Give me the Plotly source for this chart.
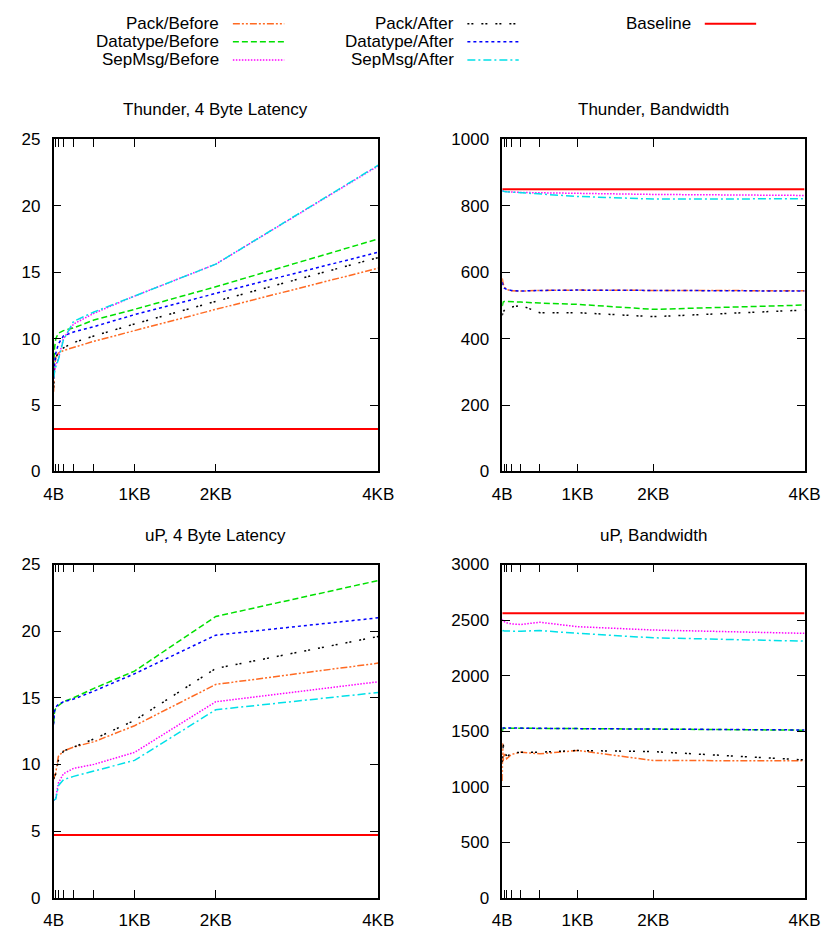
import plotly.graph_objects as go

# ---------------- data ----------------
sizes = [4, 8, 16, 32, 64, 128, 256, 512, 1024, 2048, 4096]
tick_vals = [4, 8, 16, 32, 64, 128, 256, 512, 1024, 2048, 4096]
tick_text = ["4B", "", "", "", "", "", "", "", "1KB", "2KB", "4KB"]

series_names = ["Pack/Before", "Datatype/Before", "SepMsg/Before",
                "Pack/After", "Datatype/After", "SepMsg/After", "Baseline"]

# Thunder, 4 Byte Latency
thu_lat_pack_before = [6.0, 7.0, 7.9, 8.6, 8.9, 9.1, 9.35, 9.8, 10.6, 12.2, 15.3]
thu_lat_pack_after = [6.3, 7.2, 8.0, 8.6, 8.9, 9.3, 9.7, 10.2, 11.1, 12.8, 16.1]
thu_lat_dt_before = [7.8, 8.5, 9.3, 10.0, 10.4, 10.6, 10.8, 11.4, 12.2, 13.9, 17.5]
thu_lat_dt_after = [7.0, 7.6, 8.2, 8.9, 9.6, 10.2, 10.5, 10.9, 11.8, 13.4, 16.5]
thu_lat_sep_before = [7.0, 7.3, 7.6, 8.0, 8.5, 10.0, 11.1, 11.9, 13.2, 15.6, 23.0]
thu_lat_sep_after = [7.0, 7.2, 7.5, 7.9, 8.4, 9.9, 11.3, 12.0, 13.2, 15.6, 23.05]
thu_lat_baseline = 3.2

# Thunder, Bandwidth
thu_bw_pack_before = [581, 575, 565, 555, 548, 544, 543, 545, 546, 545, 544]
thu_bw_pack_after = [470, 475, 480, 485, 490, 495, 500, 478, 478, 466, 486]
thu_bw_dt_before = [498, 505, 510, 512, 512, 511, 510, 507, 503, 488, 501]
thu_bw_dt_after = [570, 565, 558, 552, 548, 545, 543, 545, 546, 545, 543]
thu_bw_sep_before = [845, 845, 844, 843, 842, 841, 840, 839, 837, 834, 831]
thu_bw_sep_after = [845, 845, 844, 843, 842, 841, 838, 835, 828, 820, 821]
thu_bw_baseline = 850

# uP, 4 Byte Latency
up_lat_pack_before = [8.9, 9.0, 9.1, 9.4, 10.6, 11.0, 11.3, 11.7, 12.9, 16.0, 17.6]
up_lat_pack_after = [8.9, 9.0, 9.1, 9.3, 10.3, 11.0, 11.3, 11.9, 13.3, 17.2, 19.6]
up_lat_dt_before = [13.1, 13.6, 14.0, 14.2, 14.4, 14.7, 15.0, 15.7, 17.0, 21.1, 23.8]
up_lat_dt_after = [13.0, 13.6, 14.0, 14.3, 14.5, 14.7, 14.9, 15.5, 16.8, 19.7, 21.0]
up_lat_sep_before = [7.3, 7.3, 7.4, 7.5, 8.6, 9.3, 9.7, 10.0, 10.9, 14.7, 16.2]
up_lat_sep_after = [7.3, 7.3, 7.35, 7.4, 8.4, 8.85, 9.1, 9.5, 10.3, 14.1, 15.4]
up_lat_baseline = 4.7

# uP, Bandwidth
up_bw_pack_before = [1050, 1390, 1230, 1300, 1250, 1290, 1310, 1295, 1325, 1235, 1232]
up_bw_pack_after = [1220, 1300, 1380, 1330, 1270, 1300, 1310, 1310, 1325, 1315, 1240]
up_bw_dt_before = [1500, 1520, 1525, 1526, 1526, 1526, 1525, 1524, 1522, 1518, 1508]
up_bw_dt_after = [1525, 1527, 1528, 1528, 1528, 1527, 1526, 1525, 1522, 1518, 1510]
up_bw_sep_before = [2490, 2500, 2495, 2485, 2475, 2465, 2460, 2480, 2440, 2410, 2380]
up_bw_sep_after = [2400, 2405, 2405, 2402, 2400, 2400, 2400, 2405, 2380, 2340, 2310]
up_bw_baseline = 2560

panel_titles = ["Thunder, 4 Byte Latency", "Thunder, Bandwidth",
                "uP, 4 Byte Latency", "uP, Bandwidth"]
y_ranges = [(0, 25), (0, 1000), (0, 25), (0, 3000)]
y_dticks = [5, 200, 5, 500]

# ---------------- styles ----------------
FONT = "Liberation Sans, Arial, sans-serif"
FS = 17
styles = {
    "Pack/Before": dict(color="#ff6a22", dash="7px,2px,2px,2px,2px,2px", width=1.5),
    "Datatype/Before": dict(color="#00e000", dash="6px,3px", width=1.5),
    "SepMsg/Before": dict(color="#ff00ff", dash="1.5px,1.5px", width=1.5),
    "Pack/After": dict(color="#000000", dash="2px,2px,2px,8px", width=1.5),
    "Datatype/After": dict(color="#0000ff", dash="3px,3px", width=1.5),
    "SepMsg/After": dict(color="#00e0e8", dash="8px,3px,2px,3px", width=1.5),
    "Baseline": dict(color="#ff0000", dash="solid", width=2),
}

panels = [
    [thu_lat_pack_before, thu_lat_dt_before, thu_lat_sep_before,
     thu_lat_pack_after, thu_lat_dt_after, thu_lat_sep_after, thu_lat_baseline],
    [thu_bw_pack_before, thu_bw_dt_before, thu_bw_sep_before,
     thu_bw_pack_after, thu_bw_dt_after, thu_bw_sep_after, thu_bw_baseline],
    [up_lat_pack_before, up_lat_dt_before, up_lat_sep_before,
     up_lat_pack_after, up_lat_dt_after, up_lat_sep_after, up_lat_baseline],
    [up_bw_pack_before, up_bw_dt_before, up_bw_sep_before,
     up_bw_pack_after, up_bw_dt_after, up_bw_sep_after, up_bw_baseline],
]

W, H = 839, 938
def px(x):
    return x / W
def py(y):
    return 1 - y / H

x_domains = [(45, 380), (508, 820), (45, 380), (508, 820)]
y_domains = [(133, 472), (133, 472), (567, 907), (567, 907)]

fig = go.Figure()
layout = dict(
    width=W, height=H, autosize=False,
    margin=dict(l=0, r=0, t=0, b=0),
    paper_bgcolor="white", plot_bgcolor="white",
    showlegend=False,
    font=dict(family=FONT, size=FS, color="black"),
)

annotations = []
shapes = []

draw_order = [6, 0, 3, 1, 4, 2, 5]
for i in range(4):
    xa = "x" if i == 0 else f"x{i+1}"
    ya = "y" if i == 0 else f"y{i+1}"
    for k in draw_order:
        name = series_names[k]
        vals = panels[i][k]
        if not isinstance(vals, list):
            vals = [vals] * len(sizes)
        st = styles[name]
        fig.add_trace(go.Scatter(
            x=sizes, y=vals, mode="lines", name=name,
            line=dict(color=st["color"], dash=st["dash"], width=st["width"]),
            xaxis=xa, yaxis=ya, showlegend=False,
        ))
    axis_common = dict(
        showgrid=False, zeroline=False, showline=True, linecolor="black",
        linewidth=1.5, mirror="ticks", ticks="inside", ticklen=8,
        tickwidth=1, tickcolor="black",
        tickfont=dict(family=FONT, size=FS, color="black"),
    )
    xd = x_domains[i]
    yd = y_domains[i]
    layout["xaxis" if i == 0 else f"xaxis{i+1}"] = dict(
        axis_common, domain=[px(xd[0]), px(xd[1])], range=[4, 4096],
        tickmode="array", tickvals=tick_vals, ticktext=tick_text,
        anchor=ya, ticklabelstandoff=6,
    )
    layout["yaxis" if i == 0 else f"yaxis{i+1}"] = dict(
        axis_common, domain=[py(yd[1]), py(yd[0])], range=list(y_ranges[i]),
        dtick=y_dticks[i], tick0=0, anchor=xa, ticklabelstandoff=8,
    )
    annotations.append(dict(
        text=panel_titles[i], xref="paper", yref="paper",
        x=px((xd[0] + xd[1]) / 2), y=py(yd[0] - 30),
        xanchor="center", yanchor="middle", showarrow=False,
        font=dict(family=FONT, size=FS, color="black"),
    ))

# ---------------- legend (manual, gnuplot style) ----------------
legend_cols = [
    (218, 230, 283, ["Pack/Before", "Datatype/Before", "SepMsg/Before"]),
    (460, 472, 525, ["Pack/After", "Datatype/After", "SepMsg/After"]),
    (705, 717, 770, ["Baseline"]),
]
row_y = [15, 33.5, 52]
for text_right, l0, l1, names in legend_cols:
    for r, name in enumerate(names):
        st = styles[name]
        annotations.append(dict(
            text=name, xref="paper", yref="paper",
            x=px(text_right), y=py(row_y[r]), xanchor="right", yanchor="middle",
            showarrow=False, font=dict(family=FONT, size=FS, color="black"),
        ))
        shapes.append(dict(
            type="line", xref="paper", yref="paper",
            x0=px(l0), x1=px(l1), y0=py(row_y[r]), y1=py(row_y[r]),
            line=dict(color=st["color"], dash=st["dash"], width=st["width"]),
        ))

layout["annotations"] = annotations
layout["shapes"] = shapes
fig.update_layout(**layout)
fig.write_html("out.html")
